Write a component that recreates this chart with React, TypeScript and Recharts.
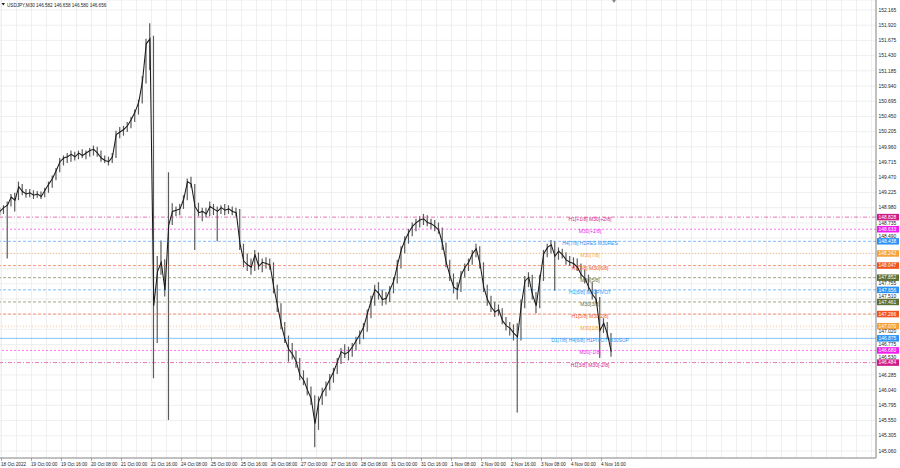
import React from 'react'
import { Bar, CartesianGrid, ComposedChart, Line, ReferenceLine, XAxis, YAxis } from 'recharts'

// USDJPY M30, sampled every 2 trading hours from 18 Oct 2022 07:30
const lows = [
  148.86, 148.88, 148.16, 149.0, 148.92, 149.1, 149.18, 149.14, 149.15, 149.12,
  149.14, 149.12, 149.15, 149.22, 149.3, 149.42, 149.55, 149.66, 149.7, 149.72,
  149.74, 149.76, 149.78, 149.76, 149.8, 149.82, 149.8, 149.72, 149.7, 149.66,
  149.7, 149.78, 150.1, 150.14, 150.2, 150.26, 150.36, 150.48, 150.66, 150.98,
  151.2, 146.23, 146.8, 147.9, 147.55, 145.56, 148.7, 148.84, 148.86, 148.96,
  149.1, 149.3, 148.3, 148.84, 148.76, 148.82, 148.84, 148.86, 148.44, 148.88,
  148.86, 148.88, 148.86, 148.84, 148.3, 148.02, 147.96, 147.9, 147.96, 147.98,
  147.94, 148.0, 147.98, 147.6, 147.3, 147.02, 146.8, 146.5, 146.54, 146.4,
  146.2, 146.12, 145.96, 145.8, 145.12, 145.4, 145.8, 145.94, 146.04, 146.16,
  146.3, 146.46, 146.56, 146.52, 146.58, 146.68, 146.78, 146.86, 146.98, 147.2,
  147.4, 147.5, 147.4, 147.42, 147.46, 147.6, 147.76, 148.0, 148.24, 148.4,
  148.52, 148.6, 148.66, 148.7, 148.68, 148.64, 148.6, 148.56, 148.3, 148.02,
  147.8, 147.6, 147.5, 147.62, 147.86, 147.96, 148.06, 148.18, 148.0, 147.62,
  147.4, 147.3, 147.22, 147.24, 147.1, 147.0, 146.92, 146.84, 145.68, 146.84,
  147.36, 147.7, 147.5, 147.28, 147.36, 147.8, 148.18, 148.24, 147.64, 148.14,
  148.16, 148.06, 148.04, 148.0, 147.96, 147.84, 147.76, 147.64, 147.5, 147.44,
  146.56, 146.96, 146.86, 146.58,
]

const highs = [
  148.98, 149.02, 149.08, 149.2, 149.22, 149.4, 149.36, 149.28, 149.28, 149.26,
  149.25, 149.24, 149.3, 149.4, 149.5, 149.62, 149.78, 149.82, 149.86, 149.9,
  149.88, 149.9, 149.92, 149.9, 149.94, 149.98, 149.96, 149.9, 149.82, 149.8,
  149.86, 150.22, 150.28, 150.3, 150.36, 150.44, 150.56, 150.72, 151.1, 151.7,
  151.95, 151.75, 148.2, 148.45, 148.15, 149.55, 149.05, 149.0, 149.04, 149.18,
  149.45, 149.48, 149.36, 149.06, 148.98, 148.98, 149.08, 149.04, 149.0, 149.02,
  149.04, 149.02, 149.0, 148.98, 148.96, 148.4, 148.24, 148.16, 148.3, 148.26,
  148.16, 148.18, 148.16, 148.1, 147.74, 147.44, 147.14, 146.92, 146.8, 146.68,
  146.56, 146.36, 146.24, 146.1, 145.96, 145.94, 146.08, 146.18, 146.3, 146.4,
  146.56, 146.72, 146.78, 146.74, 146.8, 146.9, 147.0, 147.12, 147.34, 147.56,
  147.74, 147.78, 147.66, 147.62, 147.72, 147.86, 148.14, 148.36, 148.52, 148.64,
  148.74, 148.8, 148.84, 148.88, 148.86, 148.8, 148.78, 148.74, 148.66, 148.42,
  148.14, 147.92, 147.78, 147.96, 148.08, 148.16, 148.3, 148.4, 148.36, 148.1,
  147.74, 147.56, 147.46, 147.42, 147.36, 147.22, 147.14, 147.1, 147.12, 147.5,
  147.88, 147.94, 147.9, 147.62, 147.9, 148.3, 148.4, 148.46, 148.44, 148.34,
  148.32, 148.26, 148.2, 148.18, 148.16, 148.08, 147.98, 147.9, 147.78, 147.66,
  147.54, 147.2, 147.14, 146.96,
]

const closes = [
  148.92, 148.98, 149.02, 149.15, 149.1, 149.32, 149.24, 149.2, 149.22, 149.18,
  149.2, 149.16, 149.26, 149.36, 149.45, 149.58, 149.72, 149.78, 149.8, 149.84,
  149.8, 149.86, 149.82, 149.86, 149.9, 149.92, 149.86, 149.78, 149.74, 149.72,
  149.8, 150.16, 150.2, 150.24, 150.3, 150.4, 150.52, 150.68, 151.02, 151.62,
  151.7, 147.4, 147.95, 148.1, 147.65, 148.7, 148.92, 148.94, 148.96, 149.12,
  149.4, 149.36, 149.0, 148.9, 148.92, 148.88, 149.0, 148.96, 148.92, 148.98,
  148.94, 148.96, 148.92, 148.9, 148.4, 148.12, 148.06, 148.02, 148.22, 148.04,
  148.1, 148.08, 148.06, 147.7, 147.4, 147.1, 146.86, 146.7, 146.62, 146.5,
  146.28, 146.2, 146.04, 145.9, 145.5, 145.86, 146.0, 146.1, 146.22, 146.34,
  146.5, 146.66, 146.62, 146.66, 146.74, 146.84, 146.94, 147.06, 147.28, 147.48,
  147.66, 147.6, 147.5, 147.52, 147.66, 147.8, 148.06, 148.3, 148.46, 148.58,
  148.68, 148.74, 148.78, 148.8, 148.74, 148.72, 148.68, 148.62, 148.4, 148.1,
  147.88, 147.7, 147.66, 147.9, 148.02, 148.1, 148.24, 148.32, 148.08, 147.7,
  147.5, 147.38, 147.3, 147.34, 147.16, 147.08, 147.04, 146.96, 146.9, 147.4,
  147.8, 147.86, 147.58, 147.4, 147.84, 148.24, 148.34, 148.38, 148.2, 148.28,
  148.22, 148.14, 148.1, 148.08, 148.02, 147.9, 147.84, 147.7, 147.58, 147.5,
  147.0, 147.12, 146.94, 146.66,
]

const timeLabels = [
  '18 Oct 2022', '19 Oct 00:00', '19 Oct 16:00', '20 Oct 08:00', '21 Oct 00:00', '21 Oct 16:00',
  '24 Oct 08:00', '25 Oct 00:00', '25 Oct 16:00', '26 Oct 08:00', '27 Oct 00:00', '27 Oct 16:00',
  '28 Oct 08:00', '31 Oct 00:00', '31 Oct 16:00', '1 Nov 08:00', '2 Nov 00:00', '2 Nov 16:00',
  '3 Nov 08:00', '4 Nov 00:00', '4 Nov 16:00',
]

const priceTicks = [
  145.06, 145.305, 145.55, 145.795, 146.04, 146.285, 146.53, 146.775, 147.02, 147.265,
  147.51, 147.755, 148.0, 148.245, 148.49, 148.735, 148.98, 149.225, 149.47, 149.715,
  149.96, 150.205, 150.45, 150.695, 150.94, 151.185, 151.43, 151.675, 151.92, 152.165,
]
// these sit right under a level tag on the price scale
const hiddenPriceTicks = [148.0, 148.245, 147.265]

const levelPrices = [
  148.828, 148.633, 148.438, 148.242, 148.047, 147.852, 147.656, 147.461, 147.266, 147.07, 146.875,
  146.68, 146.484,
]
const levelNames = [
  'H1[+1/8] M30[+2/8]', 'M30[+1/8]', 'H4[7/8] H1RES M30RES', 'M30[7/8]', 'H1[7/8] M30[6/8]', 'M30[5/8]',
  'H1[6/8] M30PIVOT', 'M30[3/8]', 'H1[5/8] M30[2/8]', 'M30[1/8]', 'D1[7/8] H4[6/8] H1PIVOT M30SUP',
  'M30[-1/8]', 'H1[3/8] M30[-2/8]',
]
const levelColors = [
  '#cf1b87', '#f01cf0', '#2a93f5', '#f5a23c', '#f2531c', '#5d6e32', '#2a93f5', '#5d6e32', '#f2531c',
  '#f5a23c', '#2a93f5', '#f01cf0', '#cf1b87',
]
const levelDash = [
  '4 2 1 2', '2 2', '3 2', '1 2', '3 2', '3 2', '3 2', '3 2', '3 2', '1 2', '', '2 2', '4 2 1 2',
]

const FONT = '"Liberation Sans", Arial, sans-serif'
const PLOT_W = 876
const PLOT_H = 458
const HOUR_PX = 1.875
const Y_MIN = 144.947
const Y_MAX = 152.326
const TAG_H = 6.5

const data = lows.map((low, i) => ({ t: i * 2, range: [low, highs[i]], close: closes[i] }))
const gridHours = Array.from({ length: 59 }, (_, k) => 0.8 + k * 8)
const pxPerPrice = PLOT_H / (Y_MAX - Y_MIN)

const TimeTick = ({ x, index }: any) => {
  if (index % 2 !== 0 || index / 2 >= timeLabels.length) return <g />
  return (
    <g>
      <line x1={x} x2={x} y1={458} y2={461} stroke="#777" strokeWidth={0.6} />
      <text x={x - 0.5} y={465.8} fontSize={4.6} fill="#222" fontFamily={FONT}>
        {timeLabels[index / 2]}
      </text>
    </g>
  )
}

const PriceTick = ({ y, payload }: any) => {
  if (hiddenPriceTicks.includes(payload.value)) return <g />
  // keep the scale label clear of a nearby level tag
  let ty = y
  for (const p of levelPrices) {
    const d = (p - payload.value) * pxPerPrice
    if (Math.abs(d) < 5.2) ty = y + (d > 0 ? 1 : -1) * (5.2 - Math.abs(d))
  }
  return (
    <text x={878.5} y={ty + 1.7} fontSize={4.9} fill="#222" fontFamily={FONT}>
      {payload.value.toFixed(3)}
    </text>
  )
}

const levelLabel = (i: number) => (props: any) => {
  const y = props.viewBox.y
  return (
    <g>
      <text x={590} y={y + 4} textAnchor="middle" fontSize={5} fill={levelColors[i]} fontFamily={FONT}>
        {levelNames[i]}
      </text>
      <rect x={877} y={y - TAG_H / 2} width={22} height={TAG_H} fill={levelColors[i]} />
      <text x={878.5} y={y + 1.7} fontSize={4.9} fill="#fff" fontFamily={FONT}>
        {levelPrices[i].toFixed(3)}
      </text>
    </g>
  )
}

export default function App() {
  return (
    <div style={{ position: 'absolute', left: 0, top: 0, width: 900, height: 468, background: '#fff' }}>
      <ComposedChart width={900} height={468} data={data} margin={{ top: 0, right: 0, bottom: 0, left: 0 }}>
        <CartesianGrid stroke="#ebebeb" strokeWidth={0.8} />
        <XAxis
          dataKey="t"
          type="number"
          domain={[0, PLOT_W / HOUR_PX]}
          ticks={gridHours}
          interval={0}
          height={10}
          tickLine={false}
          axisLine={{ stroke: '#8a8a8a' }}
          tick={<TimeTick />}
          allowDataOverflow
        />
        <YAxis
          orientation="right"
          width={24}
          type="number"
          domain={[Y_MIN, Y_MAX]}
          ticks={priceTicks}
          interval={0}
          tickLine={false}
          axisLine={{ stroke: '#8a8a8a' }}
          tick={<PriceTick />}
          allowDataOverflow
        />
        {levelPrices.map((p, i) => (
          <ReferenceLine
            key={p}
            y={p}
            stroke={levelColors[i]}
            strokeOpacity={i === 10 ? 0.55 : 0.6}
            strokeWidth={1}
            strokeDasharray={levelDash[i] || undefined}
            label={levelLabel(i)}
          />
        ))}
        <Bar dataKey="range" barSize={1.2} fill="#5a5a5a" isAnimationActive={false} />
        <Line
          dataKey="close"
          type="linear"
          stroke="#1a1a1a"
          strokeWidth={1.05}
          dot={false}
          activeDot={false}
          isAnimationActive={false}
        />
      </ComposedChart>
      <svg width={900} height={12} style={{ position: 'absolute', left: 0, top: 0, pointerEvents: 'none' }}>
        <path d="M1.5 3 L5 3 L3.25 5.5 Z" fill="#222" />
        <text x={7} y={6.5} fontSize={4.6} fill="#222" fontFamily={FONT}>
          USDJPY,M30  146.582 146.658 146.580 146.656
        </text>
        <path d="M612 0 L616 0 L614 3 Z" fill="#888" />
      </svg>
    </div>
  )
}
